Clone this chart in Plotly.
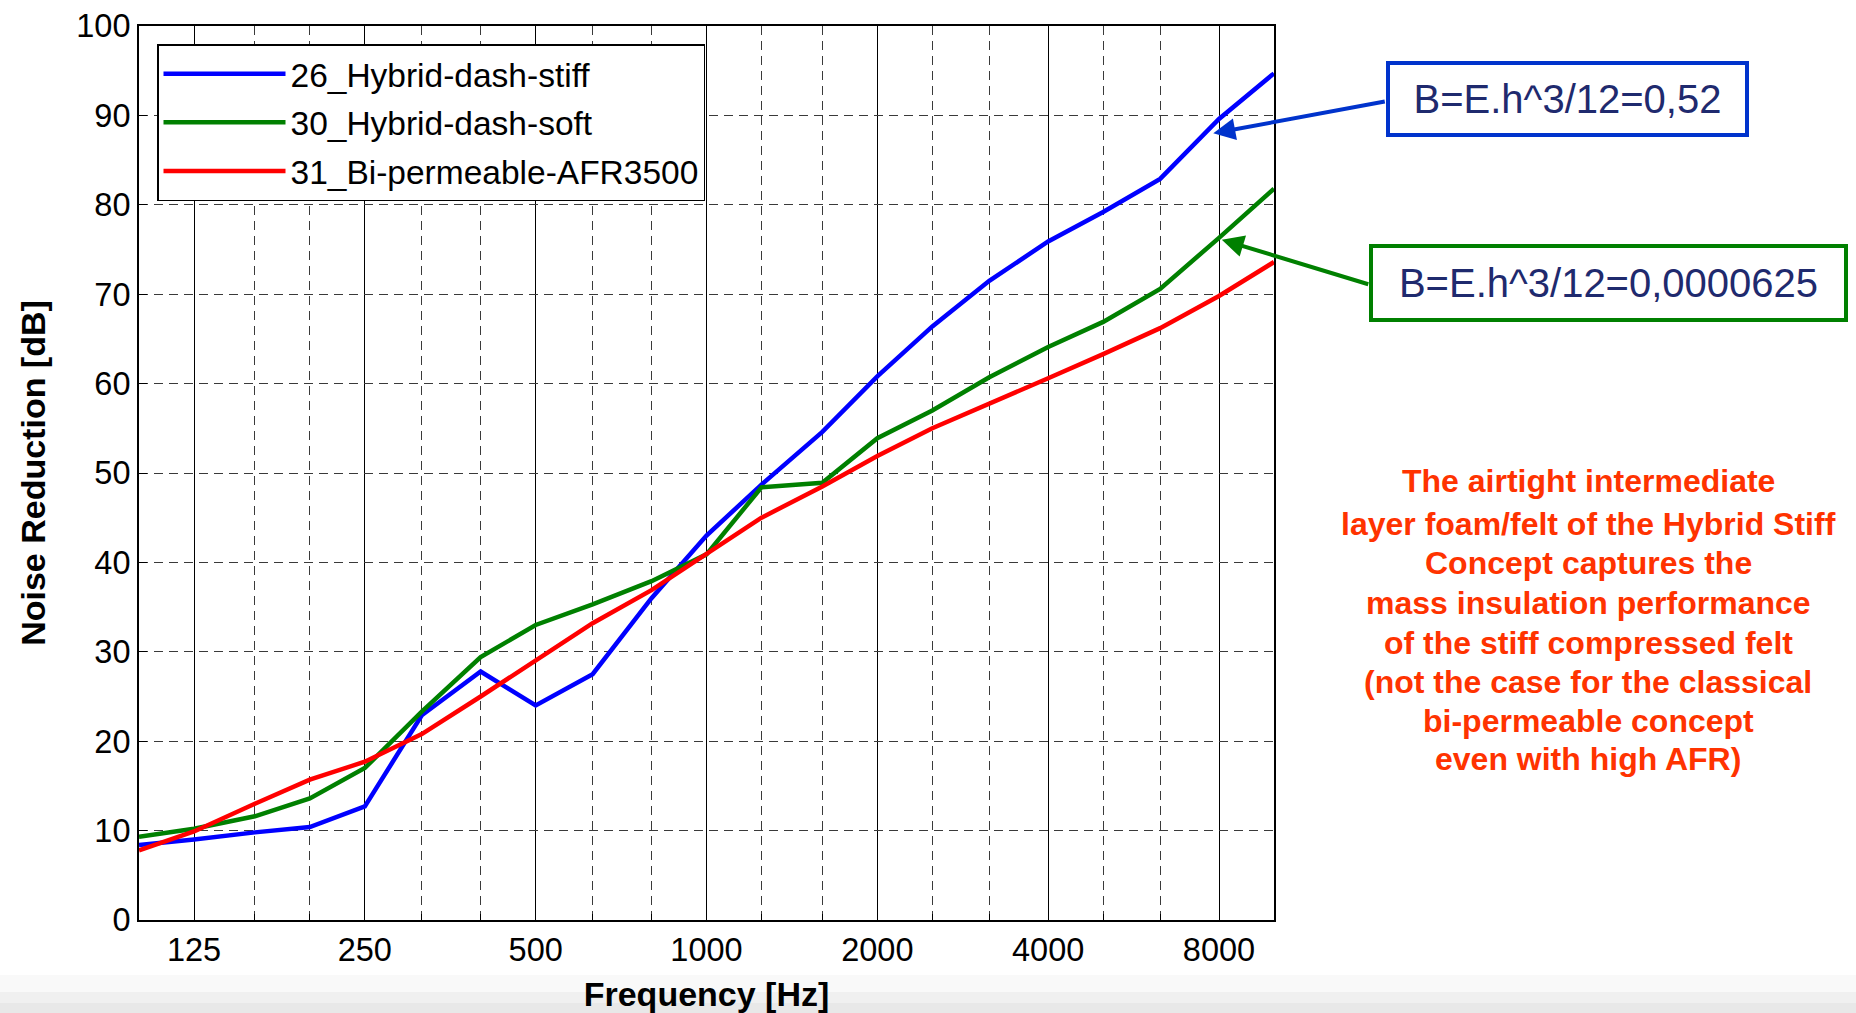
import plotly.graph_objects as go

# Third-octave band centre frequencies [Hz]
freqs = [100, 125, 160, 200, 250, 315, 400, 500, 630, 800, 1000,
         1250, 1600, 2000, 2500, 3150, 4000, 5000, 6300, 8000, 10000]

stiff = [8.4, 9.0, 9.8, 10.4, 12.7, 22.9, 27.8, 24.0, 27.5, 36.0, 43.0,
         48.7, 54.6, 60.8, 66.4, 71.5, 75.9, 79.2, 82.9, 89.6, 94.7]
soft = [9.3, 10.2, 11.6, 13.6, 17.0, 23.3, 29.4, 33.0, 35.3, 37.9, 40.9,
        48.4, 48.9, 53.9, 57.0, 60.7, 64.1, 66.9, 70.6, 76.3, 81.8]
biperm = [7.8, 9.9, 13.0, 15.7, 17.7, 20.8, 25.0, 29.0, 33.2, 36.9, 41.0,
          45.0, 48.5, 51.9, 55.0, 57.7, 60.6, 63.3, 66.2, 69.8, 73.6]

series_names = ["26_Hybrid-dash-stiff", "30_Hybrid-dash-soft", "31_Bi-permeable-AFR3500"]
series_colors = ["#0000FF", "#008000", "#FF0000"]

major_ticks = [125, 250, 500, 1000, 2000, 4000, 8000]
minor_ticks = [160, 200, 315, 400, 630, 800, 1250, 1600, 2500, 3150, 5000, 6300]
y_ticks = [0, 10, 20, 30, 40, 50, 60, 70, 80, 90, 100]

note_lines = ["The airtight intermediate",
              "layer foam/felt of the Hybrid Stiff",
              "Concept captures the",
              "mass insulation performance",
              "of the stiff compressed felt",
              "(not the case for the classical",
              "bi-permeable concept",
              "even with high AFR)"]
note_line_y = [480.6, 524.4, 563.4, 602.5, 642.7, 681.8, 720.9, 758.8]

W, H = 1856, 1013
L, R, T, B = 139, 1274, 26, 920

fig = go.Figure()
for name, vals, col in zip(series_names, [stiff, soft, biperm], series_colors):
    fig.add_trace(go.Scatter(x=freqs, y=vals, mode="lines", name=name,
                             legendgroup=name,
                             line=dict(color=col, width=4.5)))

font_main = "Liberation Sans, Arial, sans-serif"

fig.update_layout(
    width=W, height=H,
    margin=dict(l=L, r=W - R, t=T, b=H - B, pad=0, autoexpand=False),
    paper_bgcolor="white", plot_bgcolor="white",
    font=dict(family=font_main, color="black"),
    showlegend=True,
    legend=dict(x=(157 - L) / (R - L), y=1 - (44 - T) / (B - T),
                xanchor="left", yanchor="top",
                bgcolor="white", bordercolor="black", borderwidth=1.5,
                font=dict(size=33.5, family=font_main, color="black"),
                itemwidth=122, tracegroupgap=2, traceorder="grouped"),
    xaxis=dict(type="log", range=[2, 4], automargin=False,
               tickmode="array", tickvals=major_ticks,
               ticktext=[str(v) for v in major_ticks],
               tickfont=dict(size=32.5, family=font_main),
               showgrid=True, gridcolor="black", gridwidth=1,
               showline=True, linecolor="black", linewidth=2, mirror=True,
               ticks="inside", ticklen=8, tickcolor="black",
               minor=dict(tickmode="array", tickvals=minor_ticks, showgrid=True,
                          gridcolor="#3a3a3a", gridwidth=1.2, griddash="9px,6px",
                          ticks="inside", ticklen=6, tickcolor="black"),
               title=dict(text="<b>Frequency [Hz]</b>",
                          font=dict(size=34, family=font_main), standoff=16),
               zeroline=False),
    yaxis=dict(range=[0, 100], tickmode="array", tickvals=y_ticks, automargin=False,
               tickfont=dict(size=32.5, family=font_main),
               showgrid=True, gridcolor="#3a3a3a", gridwidth=1.2, griddash="9px,6px",
               showline=True, linecolor="black", linewidth=2, mirror=True,
               ticks="inside", ticklen=8, tickcolor="black",
               title=dict(text="<b>Noise Reduction [dB]</b>",
                          font=dict(size=34, family=font_main), standoff=20),
               zeroline=False),
)

pw, ph = R - L, B - T

def px(xp):
    return (xp - L) / pw

def py(yp):
    return 1 - (yp - T) / ph

# Faint grey band at the bottom of the slide
for y0, op in [(975, 0.2), (992, 0.35), (1003, 0.5)]:
    fig.add_shape(type="rect", xref="paper", yref="paper", layer="below",
                  x0=px(0), x1=px(W), y0=py(H), y1=py(y0),
                  fillcolor="#e0e0e0", opacity=op, line=dict(width=0))

# Annotation boxes
fig.add_annotation(xref="paper", yref="paper", x=px(1567.5), y=py(98.8),
                   xanchor="center", yanchor="middle",
                   text="B=E.h^3/12=0,52", showarrow=False,
                   font=dict(size=40, color="#1F2A6E", family=font_main),
                   bordercolor="#0033CC", borderwidth=4, borderpad=4,
                   width=347, height=60, bgcolor="white")
fig.add_annotation(xref="paper", yref="paper", x=px(1608.5), y=py(283),
                   xanchor="center", yanchor="middle",
                   text="B=E.h^3/12=0,0000625", showarrow=False,
                   font=dict(size=40, color="#1F2A6E", family=font_main),
                   bordercolor="#008000", borderwidth=4, borderpad=4,
                   width=463, height=62, bgcolor="white")

# Arrows pointing at the curves
fig.add_annotation(x=3.893, y=88.0, xref="x", yref="y", text="",
                   showarrow=True, ax=173, ay=-32, axref="pixel", ayref="pixel",
                   arrowhead=2, arrowsize=1.1, arrowwidth=4, arrowcolor="#0033CC")
fig.add_annotation(x=3.908, y=76.1, xref="x", yref="y", text="",
                   showarrow=True, ax=148, ay=45, axref="pixel", ayref="pixel",
                   arrowhead=2, arrowsize=1.1, arrowwidth=4, arrowcolor="#008000")

# Red explanatory text, one line at a time
for line, yl in zip(note_lines, note_line_y):
    fig.add_annotation(xref="paper", yref="paper", x=px(1588), y=py(yl),
                       text="<b>" + line + "</b>", showarrow=False,
                       xanchor="center", yanchor="middle",
                       font=dict(size=32, color="#FF3300", family=font_main))

fig.write_html("out.html")
